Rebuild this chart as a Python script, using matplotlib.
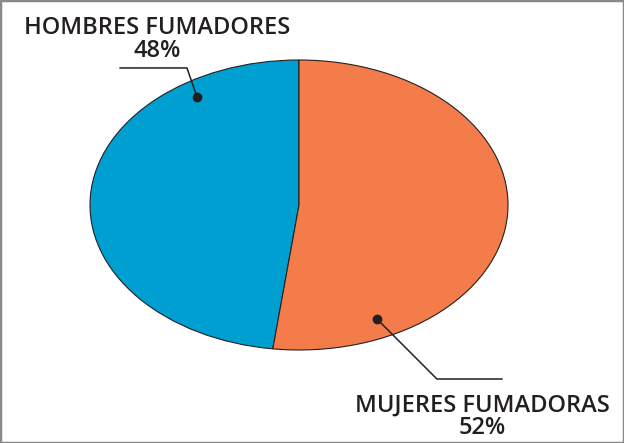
import matplotlib.pyplot as plt
from matplotlib.patches import Rectangle

labels = ["HOMBRES FUMADORES", "MUJERES FUMADORAS"]
values = [48, 52]
colors = ["#009fd2", "#f47b4a"]

W, H = 624, 443
fig = plt.figure(figsize=(W / 100, H / 100), dpi=100)
# ellipse spans x 90..508, y 60..350 (pixels from top)
ax = fig.add_axes([90 / W, (H - 350) / H, 418 / W, 290 / H])
ax.pie(values, colors=colors, startangle=90, counterclock=True,
       wedgeprops=dict(edgecolor="#231f20", linewidth=0.8))
ax.set_aspect("auto")
ax.set_xlim(-1, 1)
ax.set_ylim(-1, 1)
ax.axis("off")

txt = "#231f20"
# leader lines + dots (data coords of the stretched pie)
ax.plot([-0.488, -0.536, -0.856], [0.745, 0.945, 0.945], color=txt, lw=1.1, clip_on=False)
ax.plot([-0.488], [0.745], "o", color=txt, ms=6, clip_on=False)
ax.plot([0.373, 0.660, 0.971], [-0.786, -1.2, -1.2], color=txt, lw=1.1, clip_on=False)
ax.plot([0.373], [-0.786], "o", color=txt, ms=6, clip_on=False)

font = dict(family="Open Sans", fontweight="semibold", fontsize=17, color=txt,
            ha="center", va="center")
fig.text(157 / W, 1 - 28 / H, labels[0], **font)
fig.text(157 / W, 1 - 51 / H, f"{values[0]}%", **font)
fig.text(482 / W, 1 - 406 / H, labels[1], **font)
fig.text(482 / W, 1 - 428 / H, f"{values[1]}%", **font)

fig.add_artist(Rectangle((0, 0), 1, 1, transform=fig.transFigure, fill=False,
                         edgecolor="#8a8a8a", lw=2.5))

fig.savefig("out.png", dpi=100)
